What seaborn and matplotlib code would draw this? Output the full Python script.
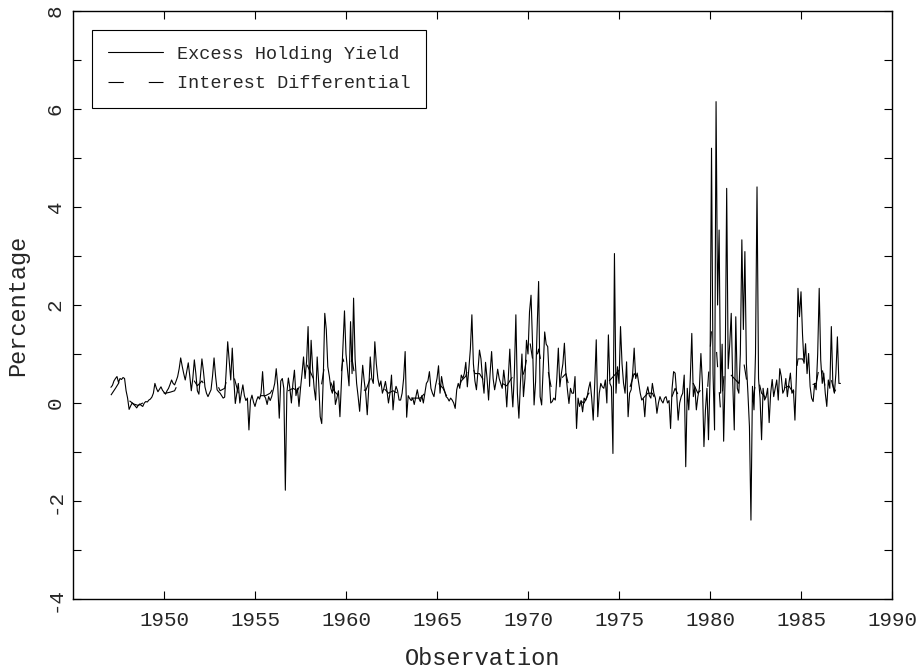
import numpy as np
import pandas as pd
import matplotlib
matplotlib.use("Agg")
import matplotlib.pyplot as plt
import seaborn as sns
from matplotlib.ticker import MultipleLocator

# ---------------- data ----------------
# Excess Holding Yield, monthly, Feb 1947 .. Mar 1987
ehy_start_year, ehy_start_month = 1947, 2
ehy_1947_1956 = [
    0.32, 0.36, 0.45, 0.50, 0.54, 0.42, 0.50, 0.48, 0.52, 0.50, 0.25,
    0.10, -0.13, -0.06, 0.00, -0.03, -0.06, -0.10, -0.05, -0.02, -0.05, -0.07, 0.00,
    0.03, 0.02, 0.06, 0.08, 0.12, 0.20, 0.40, 0.30, 0.23, 0.28, 0.33, 0.26,
    0.22, 0.18, 0.25, 0.30, 0.38, 0.47, 0.40, 0.37, 0.45, 0.54, 0.70, 0.92,
    0.75, 0.60, 0.47, 0.65, 0.82, 0.55, 0.25, 0.50, 0.88, 0.60, 0.25, 0.18,
    0.55, 0.90, 0.65, 0.33, 0.20, 0.13, 0.20, 0.27, 0.55, 0.92, 0.55, 0.27,
    0.23, 0.20, 0.15, 0.10, 0.12, 0.65, 1.25, 0.85, 0.47, 1.12, 0.50, -0.01,
    0.20, 0.40, 0.00, 0.20, 0.37, 0.15, 0.05, 0.10, -0.55, 0.05, 0.16, 0.02,
    -0.07, 0.05, 0.13, 0.08, 0.20, 0.64, 0.15, 0.10, -0.03, 0.13, 0.05, 0.13,
    0.27, 0.40, 0.70, 0.35, -0.31, 0.45, 0.50, 0.30, -1.78, 0.20, 0.51, 0.30,
]
ehy_1957_1966 = [
    0.00, 0.40, 0.67, 0.15, 0.30, -0.07, 0.30, 0.60, 0.94, 0.50, 0.85, 1.56,
    0.34, 1.28, 0.70, 0.30, 0.06, 0.94, 0.40, -0.28, -0.42, 0.50, 1.83, 1.50,
    0.74, 0.55, 0.30, 0.20, 0.45, -0.03, 0.10, 0.25, -0.28, 0.45, 1.20, 1.88,
    1.00, 0.67, 0.35, 1.66, 0.60, 2.14, 0.90, 0.40, 0.13, -0.17, 0.30, 0.77,
    0.45, 0.20, -0.24, 0.30, 0.94, 0.50, 0.40, 1.25, 0.80, 0.50, 0.34, 0.45,
    0.20, 0.30, 0.44, 0.25, 0.00, 0.20, 0.57, -0.14, 0.20, 0.34, 0.25, 0.06,
    0.06, 0.20, 0.50, 1.05, -0.29, 0.15, 0.09, 0.05, 0.10, -0.03, 0.12, 0.27,
    0.10, 0.03, 0.15, 0.00, 0.20, 0.40, 0.45, 0.64, 0.30, 0.20, 0.13, 0.35,
    0.50, 0.76, 0.20, 0.54, 0.35, 0.25, 0.13, 0.10, 0.04, 0.10, 0.06, 0.00,
    -0.11, 0.27, 0.40, 0.30, 0.57, 0.50, 0.60, 0.83, 0.33, 0.70, 1.10, 1.80,
]
ehy_1967_1976 = [
    0.80, 0.45, 0.27, 0.65, 1.08, 0.90, 0.50, 0.20, 0.83, 0.50, 0.06, 0.60,
    1.05, 0.50, 0.27, 0.45, 0.69, 0.50, 0.40, 0.30, 0.67, 0.40, -0.08, 0.50,
    1.10, 0.40, -0.08, 0.60, 1.80, 0.20, -0.31, 0.40, 1.00, 0.13, 0.50, 1.28,
    1.00, 1.86, 2.20, 1.20, -0.04, 0.43, 1.50, 2.48, 0.13, -0.04, 0.70, 1.45,
    1.20, 1.15, 0.50, 0.00, 0.03, 0.10, 0.06, 0.50, 1.12, 0.33, 0.60, 0.80,
    1.22, 0.60, 0.27, -0.01, 0.30, 0.20, 0.20, 0.54, -0.52, 0.10, -0.07, 0.05,
    -0.18, 0.10, 0.05, 0.13, 0.30, 0.43, 0.10, -0.35, 0.40, 1.29, -0.28, 0.20,
    0.40, 0.33, 0.30, 0.47, 0.00, 1.39, 0.40, 0.33, -1.03, 3.05, 0.20, 0.74,
    0.40, 1.56, 0.80, 0.40, 0.20, 0.84, -0.28, 0.20, 0.27, 0.60, 1.12, 0.50,
    0.61, 0.40, 0.20, 0.06, 0.10, -0.28, 0.20, 0.33, 0.15, 0.10, 0.40, 0.20,
]
ehy_1977_1987 = [
    0.10, -0.21, 0.00, 0.13, 0.05, 0.00, 0.10, 0.13, 0.00, 0.05, -0.52, 0.30,
    0.64, 0.61, 0.20, -0.35, 0.00, 0.13, 0.20, 0.57, -1.30, 0.30, -0.14, 0.50,
    1.42, 0.13, 0.33, -0.14, 0.13, 0.30, 1.01, 0.40, -0.89, -0.14, 0.30, -0.75,
    0.50, 5.20, 0.60, -0.55, 6.15, 2.00, 3.53, 0.20, 1.20, -0.78, 0.60, 4.38,
    0.70, 1.20, 1.83, 0.40, -0.55, 1.76, 0.30, 0.20, 1.00, 3.33, 1.50, 3.09,
    0.80, 0.20, -0.48, -2.39, 0.34, -0.14, 1.00, 4.41, 0.50, 0.10, -0.75, 0.30,
    0.06, 0.13, 0.30, -0.40, 0.20, 0.48, 0.13, 0.30, 0.47, 0.06, 0.70, 0.54,
    0.20, 0.27, 0.50, 0.13, 0.40, 0.61, 0.20, 0.27, -0.35, 0.60, 2.34, 1.76,
    2.27, 1.40, 0.81, 1.21, 0.60, 1.01, 0.34, 0.10, 0.03, 0.40, 0.27, 1.00,
    2.34, 0.88, 0.40, 0.61, 0.20, -0.07, 0.47, 0.30, 1.56, 0.40, 0.20, 0.60,
    1.35, 0.40, 0.40,
]

# Interest Differential, quarterly, Q1 1947 .. Q1 1987
idf_start_year, idf_start_month = 1947, 2
idf_values = [
    0.16, 0.30, 0.45, 0.40,   0.05, -0.02, -0.05, 0.00,
    0.03, 0.10, 0.22, 0.22,   0.20, 0.22, 0.25, 0.45,
    0.50, 0.45, 0.50, 0.35,   0.45, 0.30, 0.35, 0.45,
    0.25, 0.30, 0.70, 0.55,   0.20, 0.15, 0.10, 0.05,
    0.05, 0.15, 0.15, 0.20,   0.35, 0.20, 0.15, 0.25,
    0.30, 0.25, 0.45, 0.80,   0.60, 0.40, 0.20, 0.80,
    0.50, 0.25, 0.15, 0.90,   0.60, 0.90, 0.30, 0.30,
    0.25, 0.50, 0.60, 0.40,   0.30, 0.20, 0.25, 0.20,
    0.15, 0.30, 0.10, 0.10,   0.10, 0.20, 0.35, 0.25,
    0.40, 0.30, 0.10, 0.05,   0.15, 0.45, 0.55, 0.90,
    0.60, 0.60, 0.45, 0.40,   0.50, 0.50, 0.40, 0.35,
    0.50, 0.60, 0.40, 0.70,   1.30, 0.70, 1.10, 0.60,
    0.70, 0.20, 0.40, 0.50,   0.60, 0.20, 0.20, 0.05,
    0.00, 0.20, 0.20, 0.30,   0.30, 0.40, 0.50, 0.60,
    0.70, 0.40, 0.30, 0.60,   0.40, 0.10, 0.20, 0.20,
    0.00, 0.05, 0.05, 0.05,   0.30, 0.10, 0.15, 0.20,
    0.40, 0.20, 0.30, 0.10,   1.50, 1.20, -0.18, 0.80,
    0.60, 0.50, 0.40, 0.88,   0.30, 0.00, 0.60, 0.20,
    0.10, 0.20, 0.25, 0.35,   0.30, 0.35, 0.20, 0.90,
    0.90, 0.71, 0.37, 0.40,   0.90, 0.30, 0.60, 0.22,
    0.40,
]

series_labels = ["Excess Holding Yield", "Interest Differential"]
x_ticks = [1950, 1955, 1960, 1965, 1970, 1975, 1980, 1985, 1990]
y_ticks = [-4, -2, 0, 2, 4, 6, 8]

# ---------------- build frames ----------------
ehy = np.array(ehy_1947_1956 + ehy_1957_1966 + ehy_1967_1976 + ehy_1977_1987)
ehy_t = ehy_start_year + (ehy_start_month - 1 + np.arange(len(ehy))) / 12.0
idf = np.array(idf_values)
idf_t = idf_start_year + (idf_start_month - 1 + 3 * np.arange(len(idf))) / 12.0
df_ehy = pd.DataFrame({"t": ehy_t, "v": ehy})
df_idf = pd.DataFrame({"t": idf_t, "v": idf})

# ---------------- style ----------------
sns.set_theme(style="ticks")
plt.rcParams["font.family"] = ["Liberation Mono", "DejaVu Sans Mono"]
plt.rcParams["axes.unicode_minus"] = False
plt.rcParams["lines.scale_dashes"] = False

fig = plt.figure(figsize=(9.22, 6.71), dpi=100)
ax = fig.add_axes([73 / 922, 72 / 671, 819 / 922, 588 / 671])

sns.lineplot(data=df_idf, x="t", y="v", ax=ax, color="black", linewidth=0.8,
             linestyle=(0, (11, 18)), label=series_labels[1], zorder=2)
sns.lineplot(data=df_ehy, x="t", y="v", ax=ax, color="black", linewidth=0.8,
             label=series_labels[0], zorder=3)

ax.set_xlim(1945, 1990)
ax.set_ylim(-4, 8)
ax.set_xticks(x_ticks)
ax.set_xticklabels([str(t) for t in x_ticks])
ax.set_yticks(y_ticks)
ax.set_yticklabels([str(t) for t in y_ticks], rotation=90, va="center")
ax.yaxis.set_minor_locator(MultipleLocator(1))

for s in ax.spines.values():
    s.set_linewidth(1.0)
    s.set_color("black")
ax.tick_params(which="both", direction="in", top=True, right=True,
               length=6, width=0.8, color="black")
ax.tick_params(axis="x", labelsize=15, pad=9)
ax.tick_params(axis="y", labelsize=15, pad=6)

ax.set_xlabel("Observation", fontsize=17, labelpad=12)
ax.set_ylabel("Percentage", fontsize=17, labelpad=12)

handles, labels = ax.get_legend_handles_labels()
order = [labels.index(series_labels[0]), labels.index(series_labels[1])]
leg = ax.legend([handles[i] for i in order], [labels[i] for i in order],
                loc="upper left", bbox_to_anchor=(0.023, 0.968), borderaxespad=0,
                fontsize=13.3, frameon=True, fancybox=False, edgecolor="black",
                framealpha=1, handlelength=3.0, handletextpad=0.75,
                borderpad=0.85, labelspacing=0.7)
leg.get_frame().set_linewidth(0.8)

fig.savefig("out.png", dpi=100, facecolor="white")
